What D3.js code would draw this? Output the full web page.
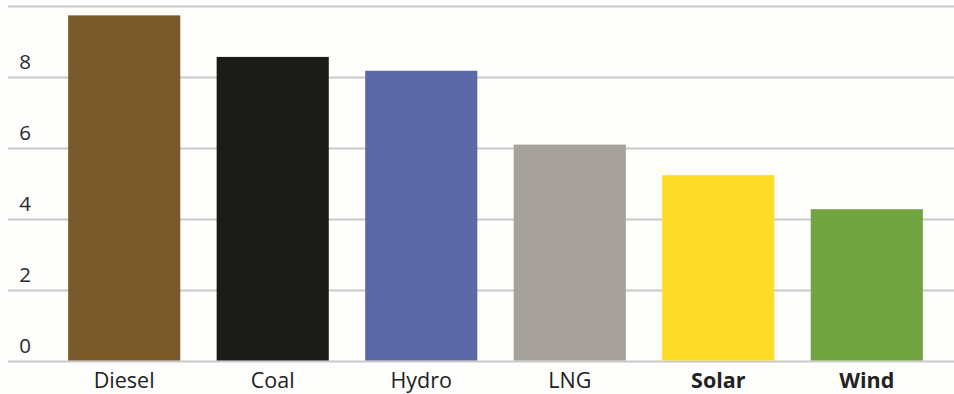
<!DOCTYPE html>
<html><head><meta charset="utf-8">
<script src="https://cdn.jsdelivr.net/npm/d3@7"></script>
<style>html,body{margin:0;padding:0;background:#fdfdfb;}svg{display:block;}</style>
</head><body>
<svg id="c" width="954" height="394"></svg>
<script>
const categories = ["Diesel","Coal","Hydro","LNG","Solar","Wind"];
const values = [9.75, 8.58, 8.19, 6.11, 5.25, 4.29];
const colors = ["#7a5a2b","#1b1b19","#5b6aa6","#a7a19c","#fddc27","#72a440"];
const boldCats = ["Solar","Wind"];
const gridValues = [0,2,4,6,8,10];
const tickLabels = [0,2,4,6,8];

const svg = d3.select("#c");
const x = d3.scaleBand().domain(categories).range([31,960]).paddingInner(0.245).paddingOuter(0.25);
const y = d3.scaleLinear().domain([0,10]).range([361.5,6.5]);
const font = "'Open Sans', sans-serif";

svg.append("g").selectAll("line").data(gridValues).join("line")
  .attr("x1",8).attr("x2",954)
  .attr("y1",d=>y(d)).attr("y2",d=>y(d))
  .attr("stroke","#c9c9c9").attr("stroke-width",2);

svg.append("g").selectAll("text").data(tickLabels).join("text")
  .attr("x",25).attr("y",d=>y(d)-8.5)
  .attr("text-anchor","middle")
  .attr("font-family",font).attr("font-size",20.5).attr("fill","#2a2a2a")
  .text(d=>d);

svg.append("g").selectAll("rect").data(categories).join("rect")
  .attr("x",d=>x(d)).attr("width",x.bandwidth())
  .attr("y",(d,i)=>y(values[i])).attr("height",(d,i)=>y(0)-1-y(values[i]))
  .attr("fill",(d,i)=>colors[i]);

svg.append("g").selectAll("text").data(categories).join("text")
  .attr("x",d=>x(d)+x.bandwidth()/2).attr("y",387.5)
  .attr("text-anchor","middle")
  .attr("font-family",font).attr("font-size",21.5)
  .attr("font-weight",d=>boldCats.includes(d)?"bold":"normal")
  .attr("fill","#222")
  .text(d=>d);
</script>
</body></html>
